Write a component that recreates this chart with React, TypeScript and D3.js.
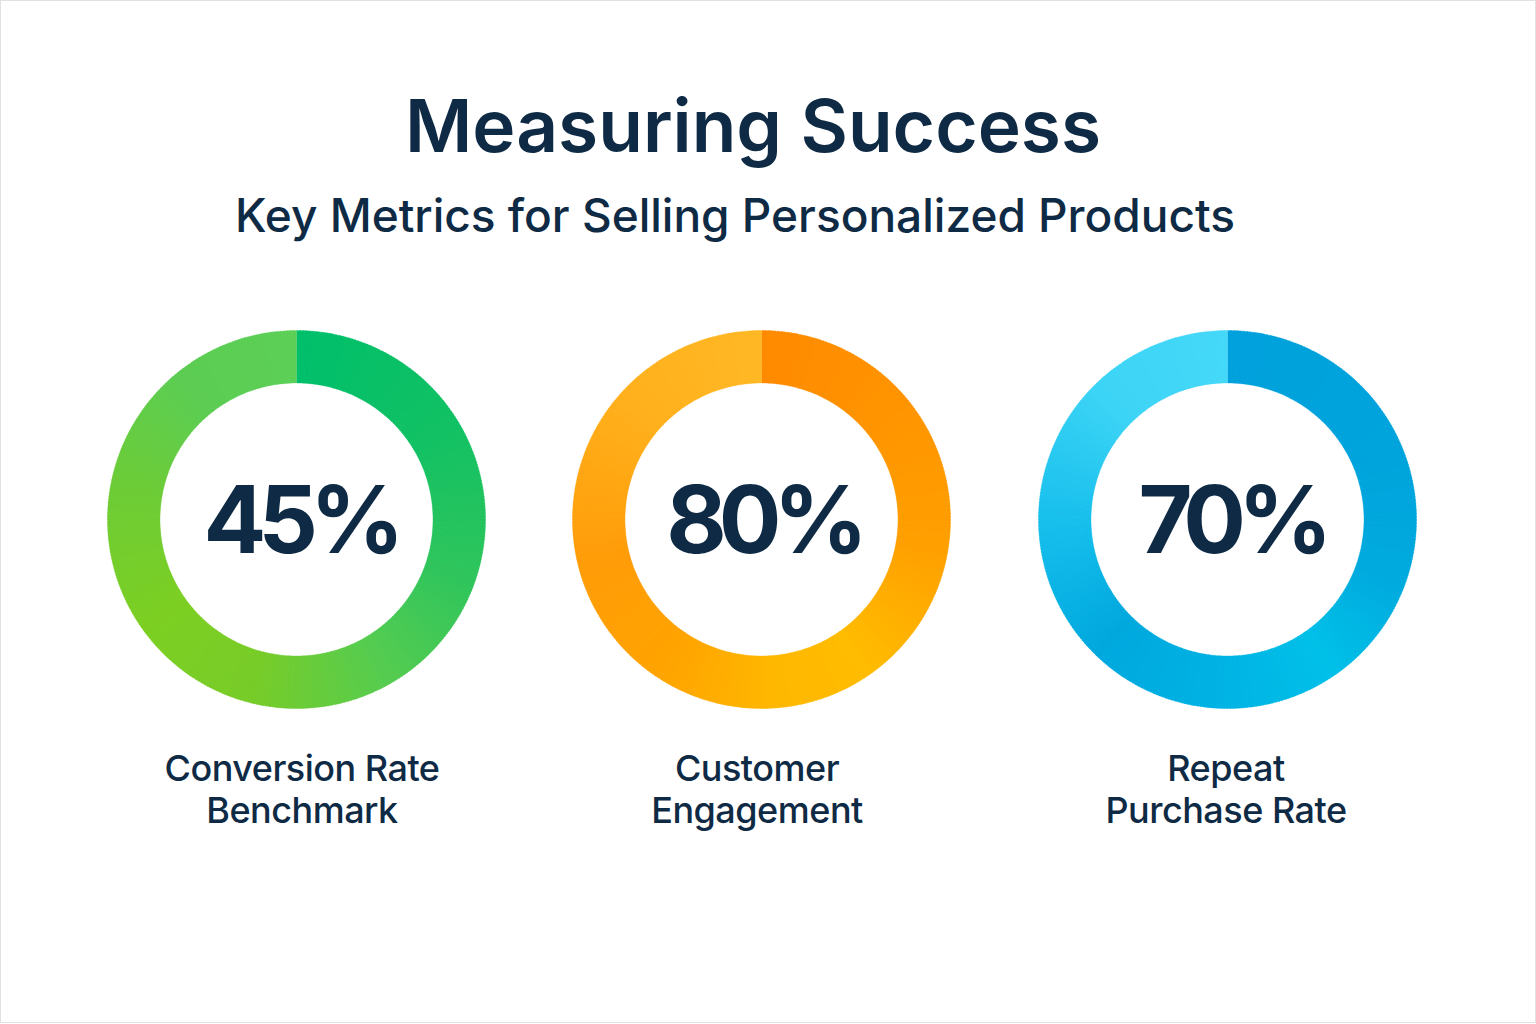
import React from "react";
import * as d3 from "d3";

const W = 1536;
const H = 1024;

const titleText = "Measuring Success";
const subtitleText = "Key Metrics for Selling Personalized Products";

const metricValues = [45, 80, 70];
const labelLine1 = ["Conversion Rate", "Customer", "Repeat"];
const labelLine2 = ["Benchmark", "Engagement", "Purchase Rate"];

// conic gradient stops: [angle in degrees clockwise from top, color]
const greenStops: [number, string][] = [
  [0, "#00bf6b"], [60, "#12c163"], [110, "#30c55c"], [150, "#55cc50"],
  [195, "#78cc28"], [235, "#7ccf22"], [280, "#6dcc36"], [320, "#5ccd52"], [360, "#5ccf57"],
];
const orangeStops: [number, string][] = [
  [0, "#ff8a00"], [50, "#ff9400"], [100, "#ffa000"], [145, "#ffbc00"],
  [175, "#ffb800"], [215, "#ffa300"], [255, "#ff9c08"], [310, "#ffb01c"], [360, "#ffb824"],
];
const blueStops: [number, string][] = [
  [0, "#00a1dc"], [70, "#00a4dc"], [110, "#00aade"], [145, "#00c0e8"],
  [185, "#00b2e4"], [225, "#00a8de"], [265, "#14bdeb"], [315, "#3cd4f6"], [360, "#45d8f8"],
];
const ringStops = [greenStops, orangeStops, blueStops];

// layout
const centerXs = [296.5, 761.5, 1227.5];
const valueDx = [5, 3, 5.5];
const labelDx = [5.5, -4.5, -1.5];
const centerY = 519.5;
const outerR = 189;
const innerR = 136.5;

const textColor = "#0e2a44";
const FONT = "Inter, 'Noto Sans', sans-serif";

function colorAt(stops: [number, string][], deg: number) {
  const scale = d3
    .scaleLinear<string>()
    .domain(stops.map((s) => s[0]))
    .range(stops.map((s) => s[1]))
    .interpolate(d3.interpolateRgb);
  return scale(deg);
}

function Ring({ cx, stops }: { cx: number; stops: [number, string][] }) {
  const n = 360;
  const arc = d3.arc<{ a0: number; a1: number }>()
    .innerRadius(innerR)
    .outerRadius(outerR)
    .startAngle((d) => d.a0)
    .endAngle((d) => d.a1);
  const segs = d3.range(n).map((i) => {
    const a0 = (i / n) * 2 * Math.PI;
    const a1 = ((i + 1) / n) * 2 * Math.PI + (i < n - 1 ? 0.004 : 0);
    const deg = ((i + 0.5) / n) * 360;
    return { a0, a1, color: colorAt(stops, deg) };
  });
  return (
    <g transform={`translate(${cx},${centerY})`}>
      {segs.map((s, i) => (
        <path key={i} d={arc(s) || ""} fill={s.color} stroke={s.color} strokeWidth={0.3} />
      ))}
    </g>
  );
}

export default function App() {
  return (
    <svg
      width={W}
      height={H}
      viewBox={`0 0 ${W} ${H}`}
      style={{ position: "absolute", left: 0, top: 0, display: "block" }}
    >
      <rect x={0} y={0} width={W} height={H} fill="#ffffff" />
      <rect x={0.5} y={0.5} width={W - 1} height={H - 2} fill="none" stroke="#dfe2e4" strokeWidth={1} />
      <text
        x={753}
        y={152}
        textAnchor="middle"
        fontFamily={FONT}
        fontWeight={600}
        fontSize={73}
        fill={textColor}
      >
        {titleText}
      </text>
      <text
        x={735}
        y={232}
        textAnchor="middle"
        fontFamily={FONT}
        fontWeight={500}
        fontSize={46}
        fill={textColor}
      >
        {subtitleText}
      </text>
      {metricValues.map((v, i) => (
        <g key={i}>
          <Ring cx={centerXs[i]} stops={ringStops[i]} />
          <text
            x={centerXs[i] + valueDx[i] - 1.5}
            y={553}
            textAnchor="middle"
            fontFamily={FONT}
            fontWeight={700}
            fontSize={93}
            letterSpacing={-8}
            fill={textColor}
          >
            {`${v}%`}
          </text>
          <text
            x={centerXs[i] + labelDx[i]}
            y={781}
            textAnchor="middle"
            fontFamily={FONT}
            fontWeight={500}
            fontSize={36}
            letterSpacing={-0.5}
            fill={textColor}
          >
            {labelLine1[i]}
          </text>
          <text
            x={centerXs[i] + labelDx[i]}
            y={823}
            textAnchor="middle"
            fontFamily={FONT}
            fontWeight={500}
            fontSize={36}
            letterSpacing={-0.5}
            fill={textColor}
          >
            {labelLine2[i]}
          </text>
        </g>
      ))}
    </svg>
  );
}
